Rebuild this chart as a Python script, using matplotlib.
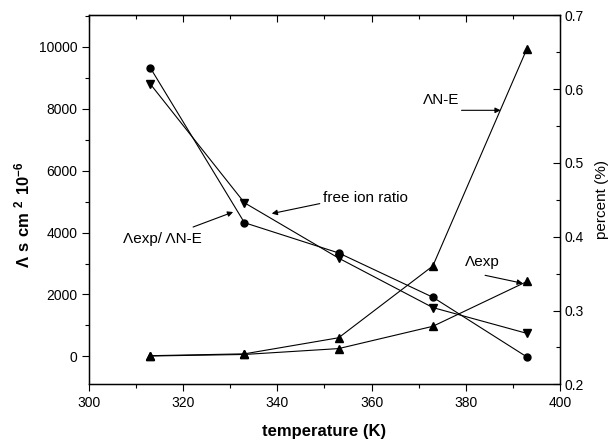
import matplotlib
matplotlib.use('Agg')
import matplotlib.pyplot as plt
from matplotlib.ticker import MultipleLocator

plt.rcParams['font.family'] = ['Liberation Sans', 'DejaVu Sans']
plt.rcParams['mathtext.fontset'] = 'custom'
plt.rcParams['mathtext.rm'] = 'Liberation Sans'
plt.rcParams['mathtext.bf'] = 'Liberation Sans:bold'

# data
temperature = [313, 333, 353, 373, 393]
lambda_ne = [20, 80, 600, 2920, 9950]          # Λ N-E (left axis)
lambda_exp = [10, 60, 250, 970, 2420]          # Λ exp (left axis)
ratio_pct = [0.629, 0.419, 0.378, 0.318, 0.237]     # Λexp / ΛN-E (right axis)
free_ion_pct = [0.607, 0.446, 0.371, 0.304, 0.269]  # free ion ratio (right axis)

fig = plt.figure(figsize=(6.13, 4.42), dpi=100)
ax = fig.add_axes([0.1452, 0.1305, 0.7683, 0.8349])
ax2 = ax.twinx()

line_kw = dict(color='black', lw=0.8)
ax.plot(temperature, lambda_ne, marker='^', ms=6, **line_kw)
ax.plot(temperature, lambda_exp, marker='^', ms=6, **line_kw)
ax2.plot(temperature, ratio_pct, marker='o', ms=5, **line_kw)
ax2.plot(temperature, free_ion_pct, marker='v', ms=6, **line_kw)

ax.set_xlim(300, 400)
ax.set_ylim(-905, 11025)
ax2.set_ylim(0.2, 0.7)

ax.xaxis.set_major_locator(MultipleLocator(20))
ax.xaxis.set_minor_locator(MultipleLocator(10))
ax.yaxis.set_major_locator(MultipleLocator(2000))
ax.yaxis.set_minor_locator(MultipleLocator(1000))
ax2.yaxis.set_major_locator(MultipleLocator(0.1))
ax2.yaxis.set_minor_locator(MultipleLocator(0.05))

ax.tick_params(axis='both', which='major', direction='out', length=5, width=0.8,
               labelsize=10, right=False, top=False)
ax.tick_params(axis='both', which='minor', direction='out', length=3, width=0.8,
               right=False, top=False)
ax2.tick_params(axis='y', which='major', direction='in', length=5, width=0.8, labelsize=10)
ax2.tick_params(axis='y', which='minor', direction='in', length=3, width=0.8)

# ticks on the top spine point inward
top = ax.secondary_xaxis('top')
top.xaxis.set_major_locator(MultipleLocator(20))
top.xaxis.set_minor_locator(MultipleLocator(10))
top.tick_params(which='major', direction='in', length=5, width=0.8, labeltop=False)
top.tick_params(which='minor', direction='in', length=3, width=0.8)

for sp in ax2.spines.values():
    sp.set_linewidth(1.0)

ax.set_xlabel('temperature (K)', fontsize=12, fontweight='bold', labelpad=10)
ax.set_ylabel(r'$\mathbf{\Lambda\ s\ cm\ ^{2}\ 10^{-6}}$', fontsize=12)
ax.yaxis.set_label_coords(-0.12, 0.46)
ax2.set_ylabel('percent (%)', fontsize=11, labelpad=8)

# labels with arrows
arrow = dict(arrowstyle='-|>', color='black', lw=0.8, mutation_scale=8,
             shrinkA=0, shrinkB=0)
ax.text(370.9, 8277, 'ΛN-E', fontsize=11, va='center')
ax.annotate('', xy=(387.4, 7953), xytext=(379.1, 7953), arrowprops=arrow)
ax.text(379.8, 3049, 'Λexp', fontsize=11, va='center')
ax.annotate('', xy=(392.1, 2360), xytext=(384.1, 2619), arrowprops=arrow)
ax.text(349.7, 5108, 'free ion ratio', fontsize=11, va='center')
ax.annotate('', xy=(338.8, 4614), xytext=(349.0, 4937), arrowprops=arrow)
ax.text(307.2, 3783, 'Λexp/ ΛN-E', fontsize=11, va='center')
ax.annotate('', xy=(330.6, 4665), xytext=(322.1, 4180), arrowprops=arrow)

fig.savefig('out.png', dpi=100)
